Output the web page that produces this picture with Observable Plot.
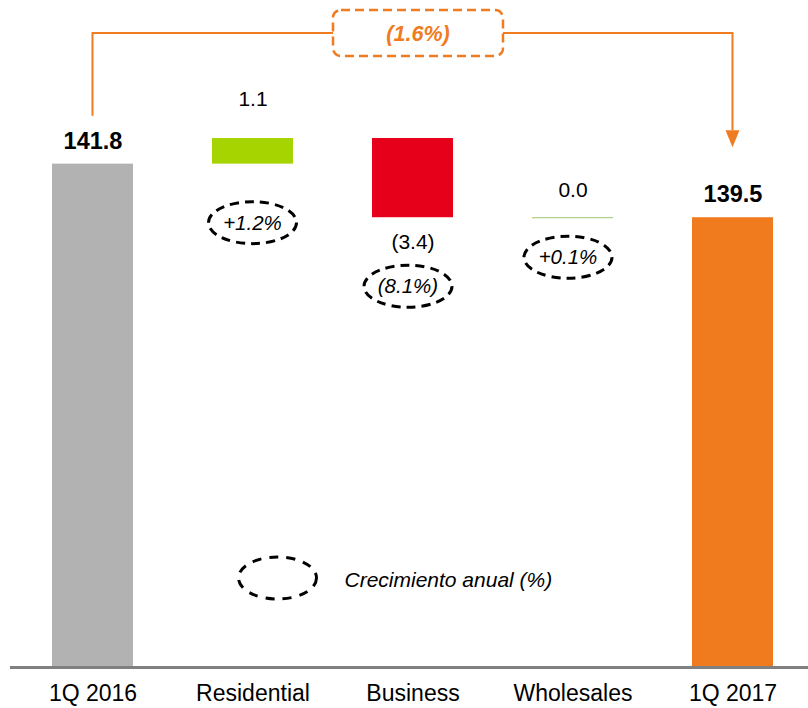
<!DOCTYPE html>
<html><head><meta charset="utf-8">
<script src="https://cdn.jsdelivr.net/npm/d3@7"></script>
<script src="https://cdn.jsdelivr.net/npm/@observablehq/plot@0.6"></script>
<style>body{margin:0;background:#fff} #chart{width:808px;height:708px}</style>
</head><body><div id="chart"></div>
<script>
const categories = ["1Q 2016", "Residential", "Business", "Wholesales", "1Q 2017"];
const values = [141.8, 1.1, -3.4, 0.0, 139.5];
const kinds = ["total", "delta", "delta", "delta", "total"];
const valueLabels = ["141.8", "1.1", "(3.4)", "0.0", "139.5"];
const growthLabels = [null, "+1.2%", "(8.1%)", "+0.1%", null];
const barColors = ["#B2B2B2", "#A6D400", "#E6001A", "#9CC46E", "#F07A1E"];
const totalGrowthLabel = "(1.6%)";
const legendLabel = "Crecimiento anual (%)";
const yBase = 120.2;

const FONT = "'Liberation Sans', Arial, sans-serif";
const ORANGE = "#F07C22";

// waterfall table
const rows = [];
let run = 0;
categories.forEach((c, i) => {
  if (kinds[i] === "total") {
    rows.push({cat: c, y1: yBase, y2: values[i], kind: "total", v: values[i], label: valueLabels[i], growth: growthLabels[i], color: barColors[i]});
    run = values[i];
  } else {
    const start = run;
    run = +(run + values[i]).toFixed(1);
    rows.push({cat: c, y1: start, y2: run, kind: "delta", v: values[i], label: valueLabels[i], growth: growthLabels[i], color: barColors[i]});
  }
});
const tops = rows.map(r => Math.max(r.y1, r.y2));
const maxRun = Math.max(...tops);

const chart = Plot.plot({
  width: 808,
  height: 708,
  marginLeft: 10,
  marginRight: 0,
  marginTop: 0,
  marginBottom: 41,
  style: {fontFamily: FONT, fontSize: "23px", background: "#fff", color: "#000"},
  x: {domain: categories, range: [12.5, 812.5], paddingInner: 0.49375, paddingOuter: 0.246875, axis: "bottom", tickSize: 0, tickPadding: 17, label: null},
  y: {domain: [yBase, maxRun], range: [667, 138], axis: null},
  color: {type: "identity"},
  marks: [
    Plot.barY(rows.filter(r => r.y1 !== r.y2), {x: "cat", y1: "y1", y2: "y2", fill: "color"}),
    Plot.tickY(rows.filter(r => r.y1 === r.y2), {x: "cat", y: "y2", stroke: "color", strokeWidth: 1}),
    Plot.ruleY([yBase], {stroke: "#808080", strokeWidth: 3}),
    Plot.text(rows.filter(r => r.kind === "total"), {x: "cat", y: "y2", text: "label", dy: -23, fontSize: 23.5, fontWeight: "bold", fill: "#000"}),
    Plot.text(rows.filter(r => r.kind === "delta" && r.v > 0), {x: "cat", y: "y2", text: "label", dy: -39, fontSize: 21, fill: "#000"}),
    Plot.text(rows.filter(r => r.kind === "delta" && r.v === 0), {x: "cat", y: "y2", text: "label", dy: -27, fontSize: 21, fill: "#000"}),
    Plot.text(rows.filter(r => r.kind === "delta" && r.v < 0), {x: "cat", y: "y2", text: "label", dy: 25, fontSize: 21, fill: "#000"})
  ]
});
document.getElementById("chart").appendChild(chart);

// overlays drawn with the chart's own scales
const sx = chart.scale("x"), sy = chart.scale("y");
const cx = c => sx.apply(c) + sx.bandwidth / 2;
const Y = v => sy.apply(v);
const svg = d3.select(chart);
const g = svg.append("g").attr("font-family", FONT);

// growth ellipses
rows.forEach(r => {
  if (!r.growth) return;
  const lower = Math.min(r.y1, r.y2);
  const off = r.v > 0 ? 59 : r.v < 0 ? 69 : 40;
  const px = cx(r.cat) - (r.v > 0 ? 0 : 4.5);
  const py = Y(lower) + off;
  g.append("ellipse").attr("cx", px).attr("cy", py).attr("rx", 44).attr("ry", 21)
    .attr("fill", "none").attr("stroke", "#000").attr("stroke-width", 3).attr("stroke-dasharray", "9 6");
  g.append("text").attr("x", px).attr("y", py).attr("dy", "0.35em").attr("text-anchor", "middle")
    .attr("font-style", "italic").attr("font-size", 20.5).attr("fill", "#000").text(r.growth);
});

// bracket with total growth
const xL = cx(categories[0]), xR = cx(categories[categories.length - 1]);
const yTop = Y(maxRun) - 105;
const yStart = Y(rows[0].y2) - 48;
const tip = Y(rows[rows.length - 1].y2) - 70;
const bw = 170, bh = 46;
const bcx = (xL + xR) / 2 + 5.5;
g.append("path")
  .attr("d", `M${xL},${yStart}V${yTop}H${bcx - bw / 2}M${bcx + bw / 2},${yTop}H${xR}V${tip - 17}`)
  .attr("fill", "none").attr("stroke", ORANGE).attr("stroke-width", 2);
g.append("path")
  .attr("d", `M${xR - 7},${tip - 17}L${xR + 7},${tip - 17}L${xR},${tip}Z`)
  .attr("fill", ORANGE);
g.append("rect").attr("x", bcx - bw / 2).attr("y", yTop - bh / 2).attr("width", bw).attr("height", bh)
  .attr("rx", 8).attr("fill", "#fff").attr("stroke", ORANGE).attr("stroke-width", 2.5).attr("stroke-dasharray", "9 5");
g.append("text").attr("x", bcx).attr("y", yTop).attr("dy", "0.35em").attr("text-anchor", "middle")
  .attr("font-style", "italic").attr("font-weight", "bold").attr("font-size", 21.5).attr("fill", ORANGE).text(totalGrowthLabel);

// legend
const lx = cx(categories[1]) + 25, ly = Y(yBase) - 89;
g.append("ellipse").attr("cx", lx).attr("cy", ly).attr("rx", 39).attr("ry", 21)
  .attr("fill", "none").attr("stroke", "#000").attr("stroke-width", 3).attr("stroke-dasharray", "9 8");
g.append("text").attr("x", lx + 67).attr("y", ly + 2).attr("dy", "0.35em").attr("text-anchor", "start")
  .attr("font-style", "italic").attr("font-size", 21).attr("fill", "#000").text(legendLabel);
</script>
</body></html>
